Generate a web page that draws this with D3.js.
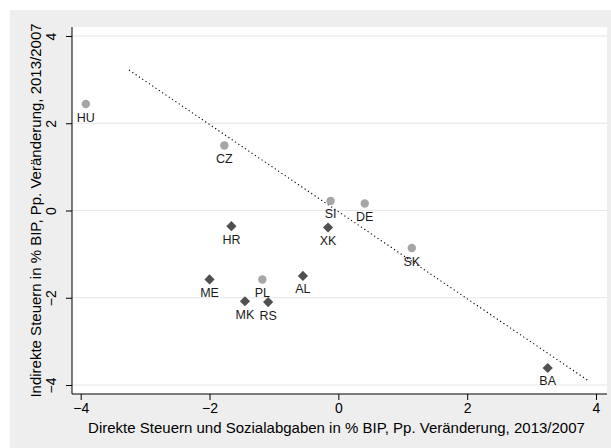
<!DOCTYPE html>
<html><head><meta charset="utf-8">
<script src="https://cdn.jsdelivr.net/npm/d3@7"></script>
<style>body{margin:0;background:#fff}svg{display:block}text{font-family:"Liberation Sans",Arial,sans-serif}</style>
</head><body>
<svg id="chart" width="611" height="448"></svg>
<script>
const countries = ["HU","CZ","HR","SI","DE","XK","SK","ME","PL","AL","MK","RS","BA"];
const directTax = [-3.92,-1.77,-1.66,-0.12,0.41,-0.16,1.14,-2.00,-1.18,-0.55,-1.45,-1.09,3.25];
const indirectTax = [2.44,1.49,-0.36,0.22,0.16,-0.39,-0.86,-1.58,-1.58,-1.50,-2.08,-2.10,-3.61];
const groupType = ["eu","eu","wb","eu","eu","wb","eu","wb","eu","wb","wb","wb","wb"];
const fitX = [-3.25, 3.90];
const fitY = [3.22, -3.92];
const xTicks = [-4,-2,0,2,4];
const yTicks = [-4,-2,0,2,4];
const xTitle = "Direkte Steuern und Sozialabgaben in % BIP, Pp. Veränderung, 2013/2007";
const yTitle = "Indirekte Steuern in % BIP, Pp. Veränderung, 2013/2007";

const svg = d3.select("#chart");
const plot = {left:72, right:607, top:27, bottom:394};
const x = d3.scaleLinear().domain([-4,4]).range([80.7,596]);
const y = d3.scaleLinear().domain([-4,4]).range([385,36]);

svg.append("rect").attr("x",10).attr("y",10).attr("width",601).attr("height",438).attr("fill","#eeeeee");
svg.append("rect").attr("x",plot.left).attr("y",plot.top).attr("width",plot.right-plot.left).attr("height",plot.bottom-plot.top).attr("fill","#ffffff");

// gridlines
svg.append("g").selectAll("line").data(yTicks).join("line")
  .attr("x1",plot.left).attr("x2",plot.right)
  .attr("y1",d=>y(d)).attr("y2",d=>y(d))
  .attr("stroke","#e6e6e6").attr("stroke-width",1.2);

// axes
const yAxis = d3.axisLeft(y).tickValues(yTicks).tickSize(6).tickPadding(4).tickFormat(d3.format("d"));
const gy = svg.append("g").attr("transform",`translate(${plot.left},0)`).call(yAxis);
gy.select(".domain").attr("d",`M0,${plot.top}V${plot.bottom}`).attr("stroke","#000");
gy.selectAll(".tick line").attr("stroke","#000");
gy.selectAll(".tick text").attr("font-size",14).attr("fill","#000")
  .attr("text-anchor","middle").attr("dy",null).attr("x",null)
  .attr("transform","translate(-16,0) rotate(-90)").attr("dy","0");

const xAxis = d3.axisBottom(x).tickValues(xTicks).tickSize(6).tickPadding(3).tickFormat(d3.format("d"));
const gx = svg.append("g").attr("transform",`translate(0,${plot.bottom})`).call(xAxis);
gx.select(".domain").attr("d",`M${plot.left},0H${plot.right}`).attr("stroke","#000");
gx.selectAll(".tick line").attr("stroke","#000");
gx.selectAll(".tick text").attr("font-size",14).attr("fill","#000");
svg.selectAll(".domain").attr("fill","none");

// fit line
svg.append("path").datum(fitX.map((v,i)=>[v,fitY[i]]))
  .attr("d",d3.line().x(d=>x(d[0])).y(d=>y(d[1])))
  .attr("fill","none").attr("stroke","#000").attr("stroke-width",1.1)
  .attr("stroke-dasharray","1.2,2.8");

// points
const pts = countries.map((c,i)=>({c, dx:directTax[i], iy:indirectTax[i], g:groupType[i]}));
const sym = d3.symbol();
svg.append("g").selectAll("path").data(pts).join("path")
  .attr("transform",d=>`translate(${x(d.dx)},${y(d.iy)})`+(d.g==="wb"?" rotate(45)":""))
  .attr("d",d=>d.g==="wb"? sym.type(d3.symbolSquare).size(52)() : sym.type(d3.symbolCircle).size(56)())
  .attr("fill",d=>d.g==="wb"?"#505050":"#a6a6a6");

svg.append("g").selectAll("text").data(pts).join("text")
  .attr("x",d=>x(d.dx)).attr("y",d=>y(d.iy)+17.5)
  .attr("text-anchor","middle").attr("font-size",12.5).attr("fill","#1a1a1a")
  .text(d=>d.c);

// titles
svg.append("text").attr("x",(plot.left+plot.right)/2-3).attr("y",433)
  .attr("text-anchor","middle").attr("font-size",15).attr("fill","#000").text(xTitle);
svg.append("text").attr("transform",`translate(41,${(plot.top+plot.bottom)/2}) rotate(-90)`)
  .attr("text-anchor","middle").attr("font-size",15).attr("fill","#000").text(yTitle);
</script>
</body></html>
